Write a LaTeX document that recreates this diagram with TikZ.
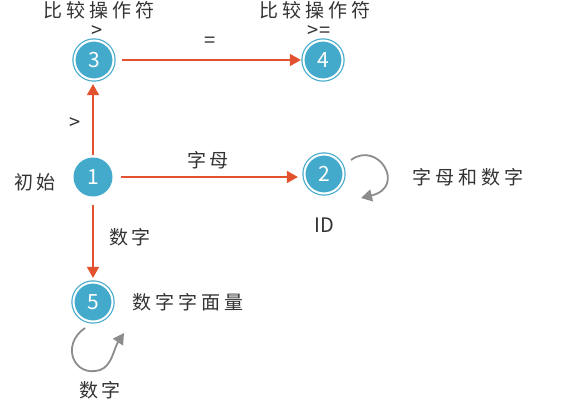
\documentclass[tikz,border=0pt]{standalone}
\usepackage{fontspec}
\setmainfont{Noto Sans CJK SC}
\newfontfamily\spacedcjk{Noto Sans CJK SC}[LetterSpace=20]
\usetikzlibrary{arrows.meta}
\definecolor{nodeblue}{HTML}{44AACB}
\definecolor{arrred}{HTML}{E2522F}
\definecolor{txt}{HTML}{333333}
\definecolor{loopgrey}{HTML}{8C8C8C}
\begin{document}
\begin{tikzpicture}[x=1pt,y=-1pt,
  state/.style={circle,fill=nodeblue,text=white,minimum size=39pt,inner sep=0pt,font=\fontsize{21}{21}\selectfont},
  ringed/.style={state,double=white,draw=nodeblue,double distance=2pt,line width=1.2pt},
  lbl/.style={text=txt,font=\spacedcjk\fontsize{19}{19}\selectfont,inner sep=0pt},
  title/.style={lbl,text depth=0pt},
  sym/.style={text=txt,font=\fontsize{20}{20}\selectfont,inner sep=0pt},
  tightsym/.style={sym,text height=0.55em,text depth=0pt},
  edge/.style={draw=arrred,line width=1.6pt,-{Triangle[length=11pt,width=12pt]}},
  selfloop/.style={draw=loopgrey,line width=1.8pt,-{Triangle[length=11pt,width=12pt]}}]
\useasboundingbox (0,0) rectangle (577,410);
\node[ringed] (n3) at (94,60) {3};
\node[ringed] (n4) at (323,60) {4};
\node[state] (n1) at (93,177) {1};
\node[ringed] (n2) at (324,174) {2};
\node[ringed] (n5) at (93,302) {5};
\coordinate (a12) at ([xshift=8pt]n1.east);
\coordinate (b12) at ([xshift=-6pt]n2.west);
\coordinate (a13) at ([yshift=2pt]n1.north);
\coordinate (b13) at ([yshift=-4pt]n3.south);
\draw[edge] ([xshift=8pt]n3.east) -- ([xshift=-2pt]n4.west);
\draw[edge] (a12) -- (a12 -| b12);
\draw[edge] (a13) -- (a13 |- b13);
\draw[edge] ([yshift=-8pt]n1.south) -- ([yshift=4pt]n5.north);
\coordinate (l2s) at (351,160);
\coordinate (l2e) at (361,198);
\draw[selfloop] (l2s) .. controls (378,140) and (407,187) .. (l2e);
\coordinate (l5s) at (85,328);
\coordinate (l5e) at (124,333);
\draw[selfloop] (l5s) .. controls (60,345) and (74,378) .. (100,370) .. controls (112,366) and (114,348) .. (l5e);
\node[title] (t3) at (99,9.5) {比较操作符};
\node[tightsym] (g3) at (97,35) {>};
\node[sym] (eq) at (210,42) {=};
\node[title] (t4) at (315,9.5) {比较操作符};
\node[tightsym] (g4) at (319,35) {>=};
\node[sym] (gt) at (75,124) {>};
\node[lbl] (init) at (35,182) {初始};
\node[lbl] (zm) at (208,160) {字母};
\node[sym] (id) at (324,225) {ID};
\node[lbl] (zmsz) at (468,177) {字母和数字};
\node[lbl] (sz) at (130,237) {数字};
\node[lbl] (szzml) at (188,302) {数字字面量};
\node[lbl] (sz2) at (100,390) {数字};
\end{tikzpicture}
\end{document}
